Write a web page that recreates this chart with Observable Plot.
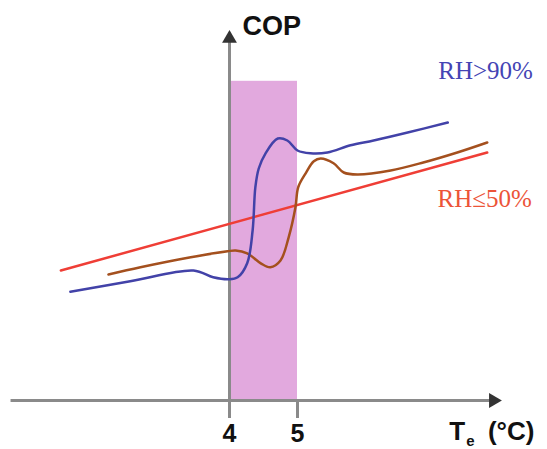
<!DOCTYPE html>
<html>
<head>
<meta charset="utf-8">
<script src="https://cdn.jsdelivr.net/npm/d3@7"></script>
<script src="https://cdn.jsdelivr.net/npm/@observablehq/plot@0.6"></script>
<style>
  html, body { margin: 0; padding: 0; background: #fff; }
  #chart { width: 547px; height: 449px; overflow: hidden; }
</style>
</head>
<body>
<div id="chart"></div>
<script>
// Te (°C) and COP (arbitrary units)
const blueX = [1.66, 2.54, 3.47, 3.76, 3.99, 4.12, 4.26, 4.34, 4.38, 4.43, 4.53, 4.71, 4.85, 5.0, 5.19, 5.44, 5.78, 6.12, 6.62, 7.21];
const blueY = [2.72, 2.98, 3.25, 3.08, 3.03, 3.08, 3.43, 4.25, 5.33, 5.8, 6.18, 6.55, 6.5, 6.25, 6.18, 6.2, 6.38, 6.5, 6.7, 6.95];

const brownX = [2.22, 2.69, 3.43, 3.97, 4.09, 4.26, 4.46, 4.60, 4.75, 4.87, 4.97, 5.01, 5.12, 5.24, 5.34, 5.53, 5.68, 5.88, 6.37, 6.85, 7.35, 7.79];
const brownY = [3.15, 3.33, 3.58, 3.73, 3.75, 3.68, 3.43, 3.33, 3.5, 4.08, 4.83, 5.33, 5.68, 5.98, 6.05, 5.93, 5.7, 5.65, 5.75, 5.95, 6.2, 6.45];

const redX = [1.52, 7.79];
const redY = [3.25, 6.2];

const bandX = [4, 5];
const bandTop = 7.98;

const xTicks = [4, 5];
const xAxisExtent = [0.78, 7.94];
const yAxisExtent = [0, 9.2];

const seriesLabels = ["RH>90%", "RH≤50%"];

const blue = blueX.map((x, i) => ({x, y: blueY[i]}));
const brown = brownX.map((x, i) => ({x, y: brownY[i]}));
const red = redX.map((x, i) => ({x, y: redY[i]}));

const gray = "#8a8a8a";
const sans = "'Liberation Sans', Arial, sans-serif";
const serif = "'Liberation Serif', 'Times New Roman', serif";

const chart = Plot.plot({
  width: 547,
  height: 449,
  margin: 0,
  x: {domain: [4, 5], range: [229, 297], axis: null},
  y: {domain: [0, 1], range: [400, 360], axis: null},
  style: {background: "white", overflow: "visible"},
  marks: [
    Plot.rect([{x1: bandX[0], x2: bandX[1], y1: 0, y2: bandTop}], {x1: "x1", x2: "x2", y1: "y1", y2: "y2", fill: "#e2a9de"}),
    // axes
    Plot.link([{x1: xAxisExtent[0], x2: xAxisExtent[1] - 0.1, y: 0}], {x1: "x1", x2: "x2", y1: "y", y2: "y", stroke: gray, strokeWidth: 3}),
    Plot.link([{x: 4, y1: yAxisExtent[0], y2: yAxisExtent[1] - 0.2}], {x1: "x", x2: "x", y1: "y1", y2: "y2", stroke: gray, strokeWidth: 3}),
    Plot.dot([{x: xAxisExtent[1] - 0.06, y: 0}], {x: "x", y: "y", symbol: "triangle", r: 5.5, fill: "#333", rotate: 90}),
    Plot.dot([{x: 4, y: yAxisExtent[1] - 0.15}], {x: "x", y: "y", symbol: "triangle", r: 5.5, fill: "#333"}),
    Plot.ruleX(xTicks, {y1: 0, y2: -0.45, stroke: gray, strokeWidth: 3}),
    Plot.text(xTicks, {x: d => d, y: 0, dy: 33, text: d => String(d), fontSize: 25, fontWeight: "bold", fontFamily: sans, fill: "#111"}),
    // series
    Plot.line(red, {x: "x", y: "y", stroke: "#ef3e36", strokeWidth: 2.5}),
    Plot.line(brown, {x: "x", y: "y", stroke: "#a4501e", strokeWidth: 2.5, curve: "catmull-rom"}),
    Plot.line(blue, {x: "x", y: "y", stroke: "#4242a8", strokeWidth: 2.5, curve: "catmull-rom"}),
    // labels
    Plot.text([seriesLabels[0]], {x: 7.07, y: 8.25, text: d => d, textAnchor: "start", fontSize: 25, fontFamily: serif, fill: "#4444b4"}),
    Plot.text([seriesLabels[1]], {x: 7.06, y: 5.03, text: d => d, textAnchor: "start", fontSize: 25, fontFamily: serif, fill: "#ec5438"}),
    Plot.text(["COP"], {x: 4.19, y: 9.35, text: d => d, textAnchor: "start", fontSize: 27, fontWeight: "bold", fontFamily: sans, fill: "#111"}),
    Plot.text(["T"], {x: 7.23, y: 0, dy: 31, text: d => d, textAnchor: "start", fontSize: 26, fontWeight: "bold", fontFamily: sans, fill: "#111"}),
    Plot.text(["e"], {x: 7.48, y: 0, dy: 41, text: d => d, textAnchor: "start", fontSize: 15, fontWeight: "bold", fontFamily: sans, fill: "#111"}),
    Plot.text(["(°C)"], {x: 7.8, y: 0, dy: 31, text: d => d, textAnchor: "start", fontSize: 26, fontWeight: "bold", fontFamily: sans, fill: "#111"})
  ]
});
document.getElementById("chart").appendChild(chart);
</script>
</body>
</html>
